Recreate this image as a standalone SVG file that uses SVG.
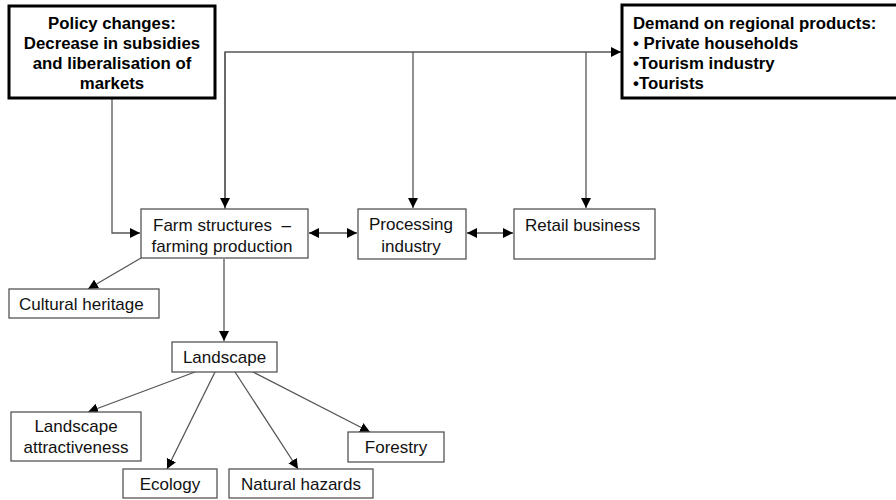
<svg xmlns="http://www.w3.org/2000/svg" width="896" height="500" viewBox="0 0 896 500">
<defs>
<marker id="ah" viewBox="0 0 10 10" refX="10" refY="5" markerWidth="10" markerHeight="10" markerUnits="userSpaceOnUse" orient="auto-start-reverse">
<path d="M0,0 L10,5 L0,10 z" fill="#000"/>
</marker>
<style>
.box{fill:#fff;stroke:#555;stroke-width:1.3}
.bbox{fill:#fff;stroke:#000;stroke-width:3}
.t{font-family:"Liberation Sans",Arial,sans-serif;font-size:17px;fill:#111}
.b{font-family:"Liberation Sans",Arial,sans-serif;font-size:16.8px;font-weight:bold;fill:#000}
.c{text-anchor:middle}
.ln{fill:none;stroke:#555;stroke-width:1.3}
.ar{marker-end:url(#ah)}
.dar{marker-start:url(#ah);marker-end:url(#ah)}
</style>
</defs>
<rect width="896" height="500" fill="#fff"/>
<g id="connectors">
<path class="ln ar" d="M112,98 V233 H140"/>
<path class="ln ar" d="M225,209 V52 H621"/>
<path class="ln ar" d="M225,52 V208"/>
<path class="ln ar" d="M413,52 V208"/>
<path class="ln ar" d="M586,52 V208"/>
<path class="ln dar" d="M309,233 H357"/>
<path class="ln dar" d="M467,233 H513"/>
<path class="ln ar" d="M141,258 L88,289"/>
<path class="ln ar" d="M224,259 V341"/>
<path class="ln ar" d="M195,372 L88,412"/>
<path class="ln ar" d="M215,372 L167,469"/>
<path class="ln ar" d="M235,372 L298,469"/>
<path class="ln ar" d="M253,372 L370,432"/>
</g>
<g id="policy">
<rect class="bbox" x="9" y="6" width="206" height="92"/>
<text class="b c" x="112" y="29">Policy changes:</text>
<text class="b c" x="112" y="49">Decrease in subsidies</text>
<text class="b c" x="112" y="69">and liberalisation of</text>
<text class="b c" x="112" y="89">markets</text>
</g>
<g id="demand">
<rect class="bbox" x="622" y="5" width="280" height="93"/>
<text class="b" x="633" y="29">Demand on regional products:</text>
<text class="b" x="633" y="49">• Private households</text>
<text class="b" x="633" y="69">•Tourism industry</text>
<text class="b" x="633" y="89">•Tourists</text>
</g>
<g id="farm">
<rect class="box" x="141" y="209" width="167" height="49"/>
<text class="t c" x="222" y="231">Farm structures&#160; –</text>
<text class="t c" x="222" y="252">farming production</text>
</g>
<g id="processing">
<rect class="box" x="358" y="209" width="108" height="50"/>
<text class="t c" x="411" y="230">Processing</text>
<text class="t c" x="411" y="252">industry</text>
</g>
<g id="retail">
<rect class="box" x="514" y="209" width="141" height="50"/>
<text class="t" x="525" y="231">Retail business</text>
</g>
<g id="cultural">
<rect class="box" x="9" y="289" width="150" height="29"/>
<text class="t" x="19" y="310">Cultural heritage</text>
</g>
<g id="landscape">
<rect class="box" x="172" y="342" width="105" height="30"/>
<text class="t c" x="224.5" y="363">Landscape</text>
</g>
<g id="attractiveness">
<rect class="box" x="11" y="412" width="130" height="49"/>
<text class="t c" x="76" y="432">Landscape</text>
<text class="t c" x="76" y="453">attractiveness</text>
</g>
<g id="ecology">
<rect class="box" x="123" y="469" width="94" height="29"/>
<text class="t c" x="170" y="490">Ecology</text>
</g>
<g id="hazards">
<rect class="box" x="229" y="469" width="144" height="29"/>
<text class="t c" x="301" y="490">Natural hazards</text>
</g>
<g id="forestry">
<rect class="box" x="348" y="432" width="96" height="30"/>
<text class="t c" x="396" y="453">Forestry</text>
</g>
</svg>
